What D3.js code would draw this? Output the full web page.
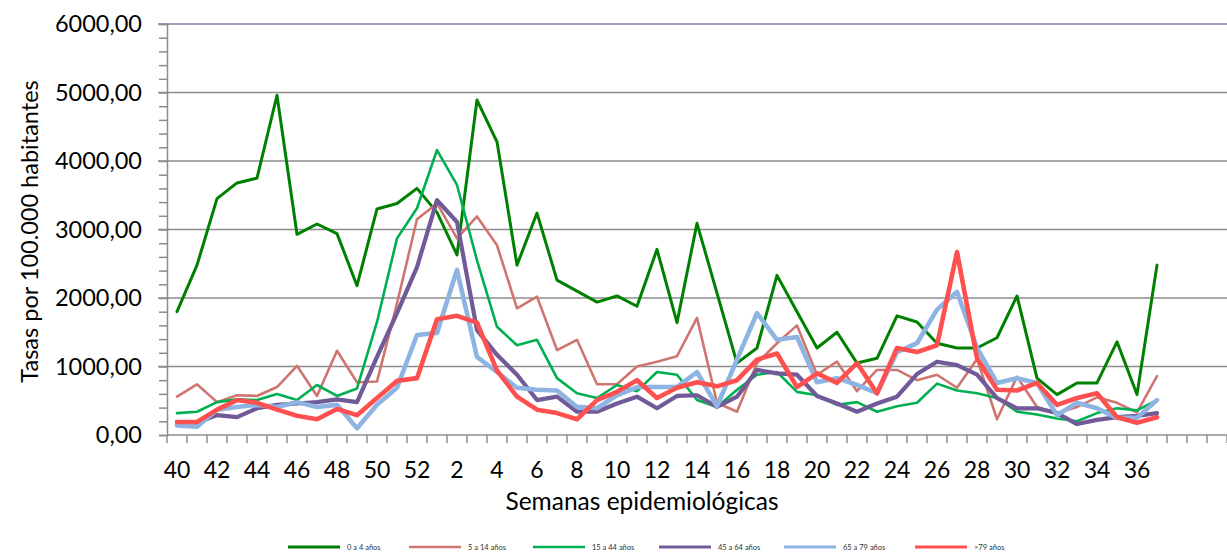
<!DOCTYPE html>
<html>
<head>
<meta charset="utf-8">
<script src="https://cdn.jsdelivr.net/npm/d3@7"></script>
<style>
  body { margin: 0; background: #fff; }
  svg { font-family: "Lato", "Open Sans", sans-serif; }
</style>
</head>
<body>
<div id="chart"></div>
<script>
// weeks 40..52 then 1..37, plus three empty slots at the end
const weeks = [40,41,42,43,44,45,46,47,48,49,50,51,52,1,2,3,4,5,6,7,8,9,10,11,12,13,14,15,16,17,18,19,20,21,22,23,24,25,26,27,28,29,30,31,32,33,34,35,36,37];
const emptySlots = ["e1", "e2", "e3"];
const yTicks = [0, 1000, 2000, 3000, 4000, 5000, 6000];

const s0a4 = [1800,2480,3450,3680,3750,4960,2930,3080,2940,2180,3300,3380,3600,3250,2630,4890,4280,2480,3240,2260,2100,1940,2030,1880,2710,1640,3090,2070,1050,1270,2330,1800,1270,1500,1050,1120,1740,1650,1340,1270,1270,1420,2030,830,590,760,760,1360,590,2480];
const s5a14 = [560,740,480,580,570,700,1010,570,1230,770,780,1920,3150,3380,2870,3190,2770,1850,2020,1240,1390,740,740,1000,1070,1150,1710,470,340,1050,1340,1600,880,1070,640,950,950,800,880,690,1110,230,850,410,320,410,550,470,330,860];
const s15a44 = [320,340,480,520,510,600,510,730,570,680,1650,2870,3310,4160,3650,2550,1580,1310,1390,830,610,540,730,640,920,880,510,410,660,880,920,630,580,440,480,340,420,470,750,650,610,540,340,300,240,200,320,390,360,510];
const s45a64 = [190,180,290,260,390,440,460,480,520,480,1140,1780,2450,3430,3110,1530,1170,880,510,560,340,340,460,560,390,570,580,410,560,950,900,880,570,460,340,460,560,890,1070,1020,880,540,390,390,320,160,220,260,280,320];
const s65a79 = [140,120,370,410,440,410,480,410,440,100,440,690,1460,1490,2410,1140,920,690,660,650,410,390,580,700,700,700,920,420,1100,1780,1390,1430,770,830,730,610,1210,1340,1830,2090,1270,760,830,760,290,470,390,250,250,510];
const sMas79 = [190,190,370,510,470,370,280,230,380,290,540,790,830,1690,1740,1640,940,560,370,320,230,510,630,800,540,690,770,710,800,1100,1190,700,900,760,1050,610,1270,1210,1310,2670,1120,660,650,760,440,540,610,260,180,260];

const seriesNames = ["0 a 4 años", "5 a 14 años", "15 a 44 años", "45 a 64 años", "65 a 79 años", ">79 años"];
const seriesValues = [s0a4, s5a14, s15a44, s45a64, s65a79, sMas79];
const colors = ["#008000", "#CF7570", "#00B050", "#705A98", "#8EB4E3", "#FF5050"];
const widths = [3, 2.6, 2.6, 4.2, 4.6, 4.6];

const W = 1227, H = 552;
const plotLeft = 167, plotRight = 1227, plotTop = 24, plotBottom = 435;

const svg = d3.select("#chart").append("svg").attr("width", W).attr("height", H);

const keys = weeks.map((w, i) => "w" + i).concat(emptySlots);
const x = d3.scaleBand().domain(keys).range([plotLeft, plotRight]);
const y = d3.scaleLinear().domain([0, 6000]).range([plotBottom, plotTop]);

// gridlines
svg.append("g")
  .selectAll("line")
  .data(yTicks.filter(d => d > 0))
  .enter().append("line")
  .attr("x1", plotLeft - 9).attr("x2", plotRight)
  .attr("y1", d => y(d)).attr("y2", d => y(d))
  .attr("stroke", d => d === 6000 ? "#8C77A8" : "#8c8c8c")
  .attr("stroke-width", 1.5);

// y axis with minor ticks
const yAxis = svg.append("g").attr("transform", "translate(" + plotLeft + ",0)")
  .call(d3.axisLeft(y).tickValues(d3.range(0, 6001, 200)).tickSize(8).tickFormat(""));
yAxis.selectAll("line").attr("stroke", "#8c8c8c").attr("stroke-width", 1.5);
yAxis.select(".domain").attr("stroke", "#8c8c8c").attr("stroke-width", 1.5);

svg.append("g")
  .selectAll("text")
  .data(yTicks)
  .enter().append("text")
  .attr("x", 142).attr("y", d => y(d))
  .attr("dy", "0.35em")
  .attr("text-anchor", "end")
  .attr("font-size", 23.5)
  .attr("fill", "#000")
  .text(d => d3.format(".2f")(d).replace(".", ","));

// x axis: ticks at band edges
const edges = keys.map(k => x(k)).concat([plotRight]);
svg.append("line")
  .attr("x1", plotLeft).attr("x2", plotRight).attr("y1", plotBottom).attr("y2", plotBottom)
  .attr("stroke", "#8c8c8c").attr("stroke-width", 1.5);
svg.append("g")
  .selectAll("line")
  .data(edges)
  .enter().append("line")
  .attr("x1", d => d).attr("x2", d => d)
  .attr("y1", plotBottom).attr("y2", plotBottom + 8)
  .attr("stroke", "#8c8c8c").attr("stroke-width", 1.5);

svg.append("g")
  .selectAll("text")
  .data(weeks.map((w, i) => ({ w, i })).filter(d => d.i % 2 === 0))
  .enter().append("text")
  .attr("x", d => x("w" + d.i) + x.bandwidth() / 2)
  .attr("y", 470)
  .attr("dy", "0.35em")
  .attr("text-anchor", "middle")
  .attr("font-size", 23)
  .text(d => d.w);

svg.append("text")
  .attr("x", 642).attr("y", 501).attr("dy", "0.35em")
  .attr("text-anchor", "middle").attr("font-size", 24.5)
  .text("Semanas epidemiológicas");

svg.append("text")
  .attr("transform", "translate(30," + ((plotTop + plotBottom) / 2 + 2) + ") rotate(-90)")
  .attr("dy", "0.35em")
  .attr("text-anchor", "middle").attr("font-size", 23.5)
  .text("Tasas por 100.000 habitantes");

// lines
const line = d3.line()
  .x((d, i) => x("w" + i) + x.bandwidth() / 2)
  .y(d => y(d));

svg.append("g")
  .selectAll("path")
  .data(seriesValues)
  .enter().append("path")
  .attr("d", d => line(d))
  .attr("fill", "none")
  .attr("stroke", (d, i) => colors[i])
  .attr("stroke-width", (d, i) => widths[i])
  .attr("stroke-linejoin", "round")
  .attr("stroke-linecap", "round");

// legend
const legendX = [288, 409, 533, 659, 784, 915];
const leg = svg.append("g")
  .selectAll("g")
  .data(seriesNames)
  .enter().append("g")
  .attr("transform", (d, i) => "translate(" + legendX[i] + ",547)");
leg.append("line")
  .attr("x1", 0).attr("x2", 52)
  .attr("stroke", (d, i) => colors[i])
  .attr("stroke-width", (d, i) => Math.min(widths[i], 3));
leg.append("text")
  .attr("x", 59).attr("dy", "0.35em")
  .attr("font-size", 7.5).attr("fill", "#333")
  .text(d => d);
</script>
</body>
</html>
